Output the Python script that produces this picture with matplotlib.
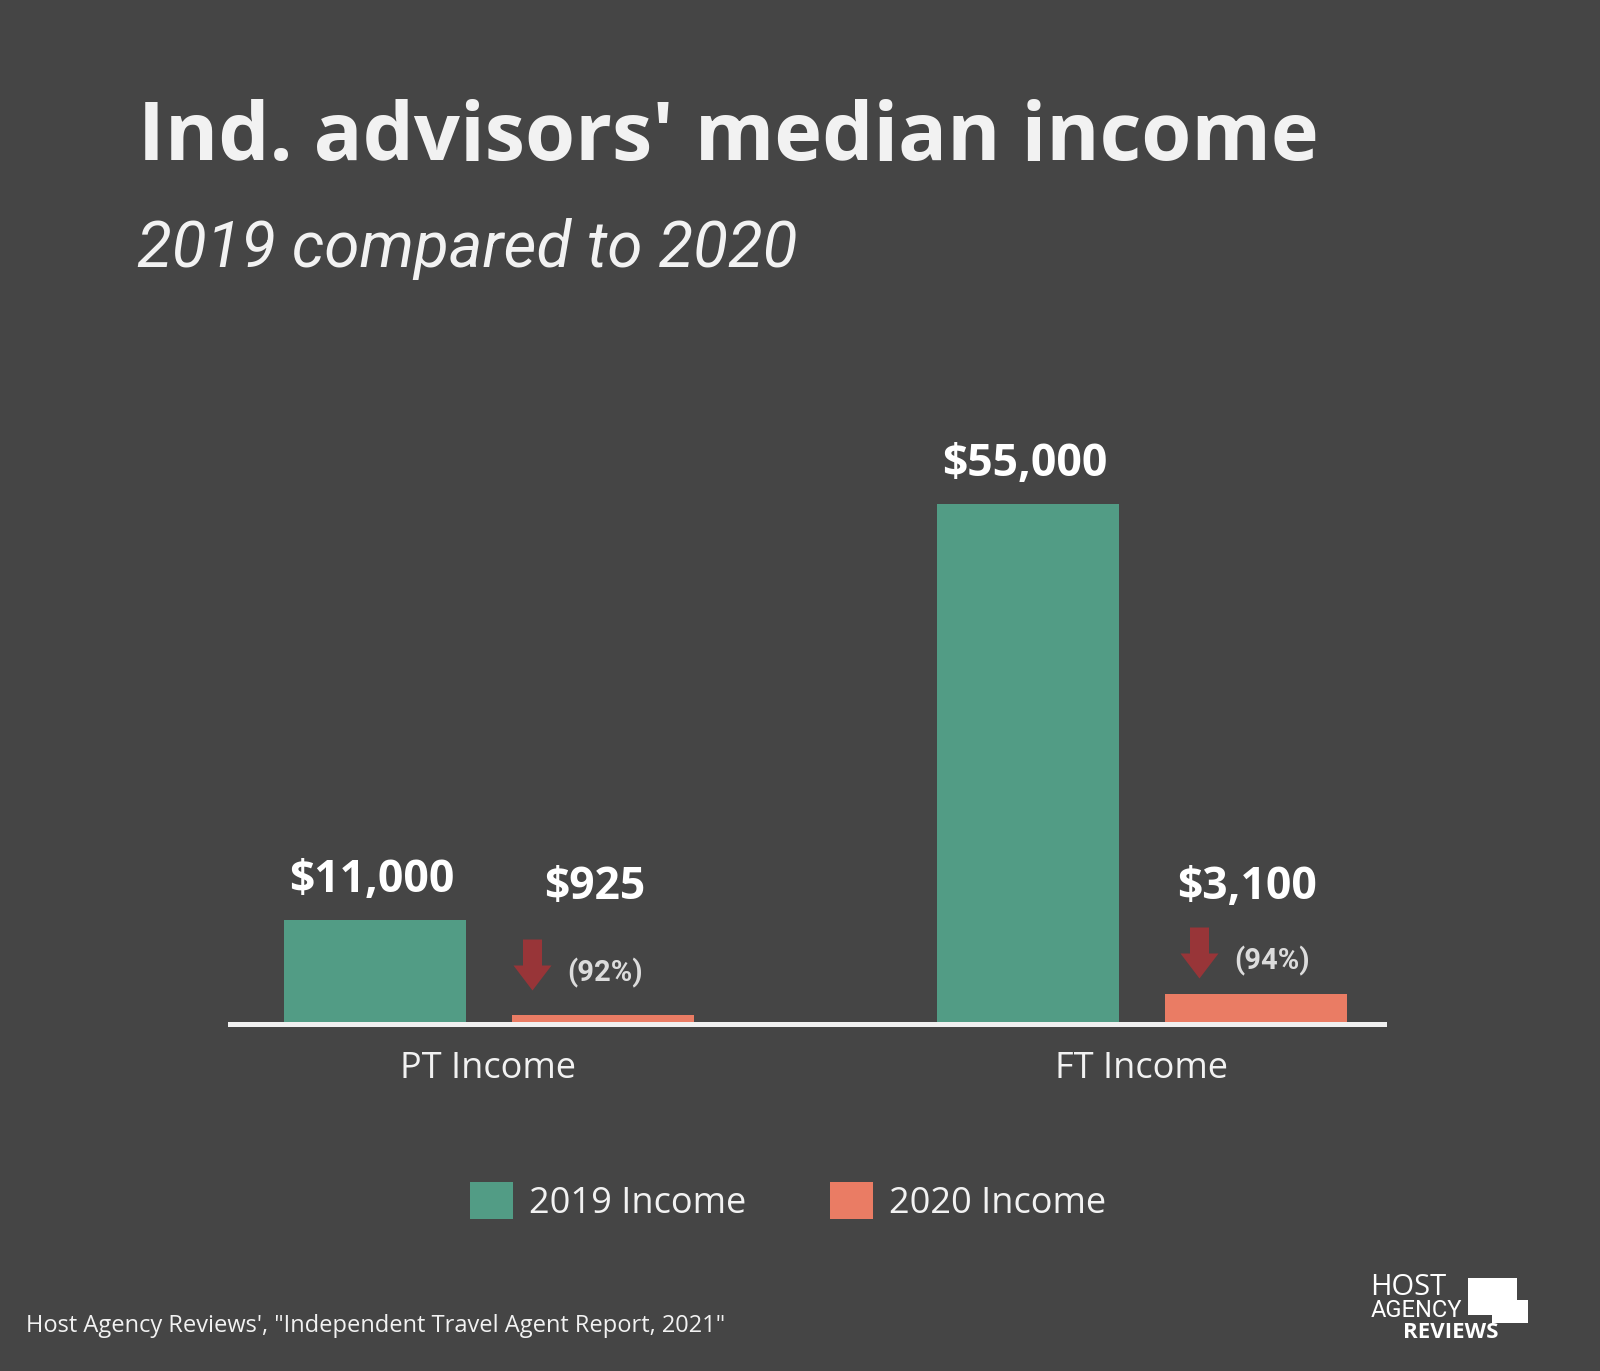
import matplotlib
matplotlib.use("Agg")
import matplotlib.pyplot as plt
from matplotlib.patches import Polygon, Rectangle
from matplotlib.transforms import IdentityTransform, blended_transform_factory
import numpy as np

# data
categories = ["PT Income", "FT Income"]
series = ["2019 Income", "2020 Income"]
income_2019 = [11000, 55000]
income_2020 = [925, 3100]
labels_2019 = ["$11,000", "$55,000"]
labels_2020 = ["$925", "$3,100"]
drop_labels = ["(92%)", "(94%)"]

BG = "#454545"
GREEN = "#529c85"
ORANGE = "#ea7c64"
ARROW = "#983538"
WHITE = "#f2f2f2"
NARROW = ["Roboto", "DejaVu Sans"]

plt.rcParams["font.family"] = ["Open Sans", "DejaVu Sans"]

W, H = 1600, 1371
fig = plt.figure(figsize=(W / 100, H / 100), dpi=100, facecolor=BG)


def fx(x):
    return x / W


def fy(y):
    return 1 - y / H


# axes: baseline at y=1023.5 px, plot from x=230 to 1384
ax = fig.add_axes([fx(230), fy(1023.5), fx(1384) - fx(230), (1023.5 - 400) / H])
ax.set_facecolor(BG)

x = np.arange(len(categories))
bw = 182 / 653
off = 114 / 653
b1 = ax.bar(x - off, income_2019, bw, color=GREEN, label=series[0], zorder=2)
b2 = ax.bar(x + off, income_2020, bw, color=ORANGE, label=series[1], zorder=2)

ax.set_xlim(-258.5 / 653, 1 + 242.5 / 653)
ax.set_ylim(0, 55000 * 623.5 / 519.5)

for s in ["top", "left", "right"]:
    ax.spines[s].set_visible(False)
ax.spines["bottom"].set_color("#f0f0f0")
ax.spines["bottom"].set_linewidth(3.6)
ax.spines["bottom"].set_zorder(3)
ax.set_yticks([])
ax.set_xticks(x)
ax.set_xticklabels(categories, fontsize=26, color=WHITE)
ax.tick_params(axis="x", length=0, pad=19.5)

# value labels
for rect, lab in zip(b1, labels_2019):
    ax.annotate(lab, (rect.get_x() + rect.get_width() / 2, rect.get_height()),
                xytext=(-3, 28), textcoords="offset pixels", ha="center",
                va="baseline", fontsize=32, fontweight="bold", color="white")

trans = blended_transform_factory(ax.transData, ax.transAxes)
for rect, lab in zip(b2, labels_2020):
    ax.text(rect.get_x() + rect.get_width() / 2 - 8 / 653, 124.5 / 623.5, lab,
            transform=trans, ha="center", va="baseline", fontsize=32,
            fontweight="bold", color="white")

# down arrows with percentage drop
arrow_dx = [-70, -56]
arrow_tip = [33, 45]
for rect, lab, dx, dy in zip(b2, drop_labels, arrow_dx, arrow_tip):
    cx = rect.get_x() + rect.get_width() / 2
    px, py = ax.transData.transform((cx, 0))
    px += dx
    tip = py + dy
    verts = [(px - 9.5, tip + 51), (px + 9.5, tip + 51), (px + 9.5, tip + 25),
             (px + 19, tip + 25), (px, tip), (px - 19, tip + 25),
             (px - 9.5, tip + 25)]
    fig.patches.append(Polygon(verts, closed=True, transform=IdentityTransform(),
                               facecolor=ARROW, edgecolor="none", figure=fig))
    fig.text(px + 35, tip + 18, lab, transform=IdentityTransform(), ha="left",
             va="center", fontsize=21, fontweight="bold", color="#dcdcdc",
             family=NARROW)

# titles
fig.text(fx(138), fy(160), "Ind. advisors' median income", fontsize=58.3,
         fontweight="bold", color=WHITE, va="baseline", ha="left")
fig.text(fx(137), fy(267), "2019 compared to 2020", fontsize=46,
         style="italic", color=WHITE, va="baseline",
         ha="left", family=NARROW)

# legend
fig.legend(handles=[b1, b2], labels=series, loc="center",
           bbox_to_anchor=(fx(788), fy(1202)), ncol=2, frameon=False,
           fontsize=26, handlelength=1.2, handleheight=1.2,
           handletextpad=0.45, columnspacing=2.3, labelcolor=WHITE)

# source
fig.text(fx(26), fy(1332), "Host Agency Reviews', \"Independent Travel Agent Report, 2021\"",
         fontsize=17, color=WHITE, va="baseline", ha="left")

# logo
fig.text(fx(1370), fy(1295), "HOST", fontsize=21, color="white",
         va="baseline", ha="left")
fig.text(fx(1371), fy(1317), "AGENCY", fontsize=17, color="white",
         va="baseline", ha="left", family=NARROW)
fig.text(fx(1403), fy(1338), "REVIEWS", fontsize=16, fontweight="bold",
         color="white", va="baseline", ha="left")
fig.patches.append(Rectangle((fx(1468), fy(1315)), fx(49), 37 / H,
                             transform=fig.transFigure, facecolor="white",
                             edgecolor="none", figure=fig))
fig.patches.append(Rectangle((fx(1492), fy(1323)), fx(36), 23 / H,
                             transform=fig.transFigure, facecolor="white",
                             edgecolor="none", figure=fig))

fig.savefig("out.png", dpi=100, facecolor=BG)
